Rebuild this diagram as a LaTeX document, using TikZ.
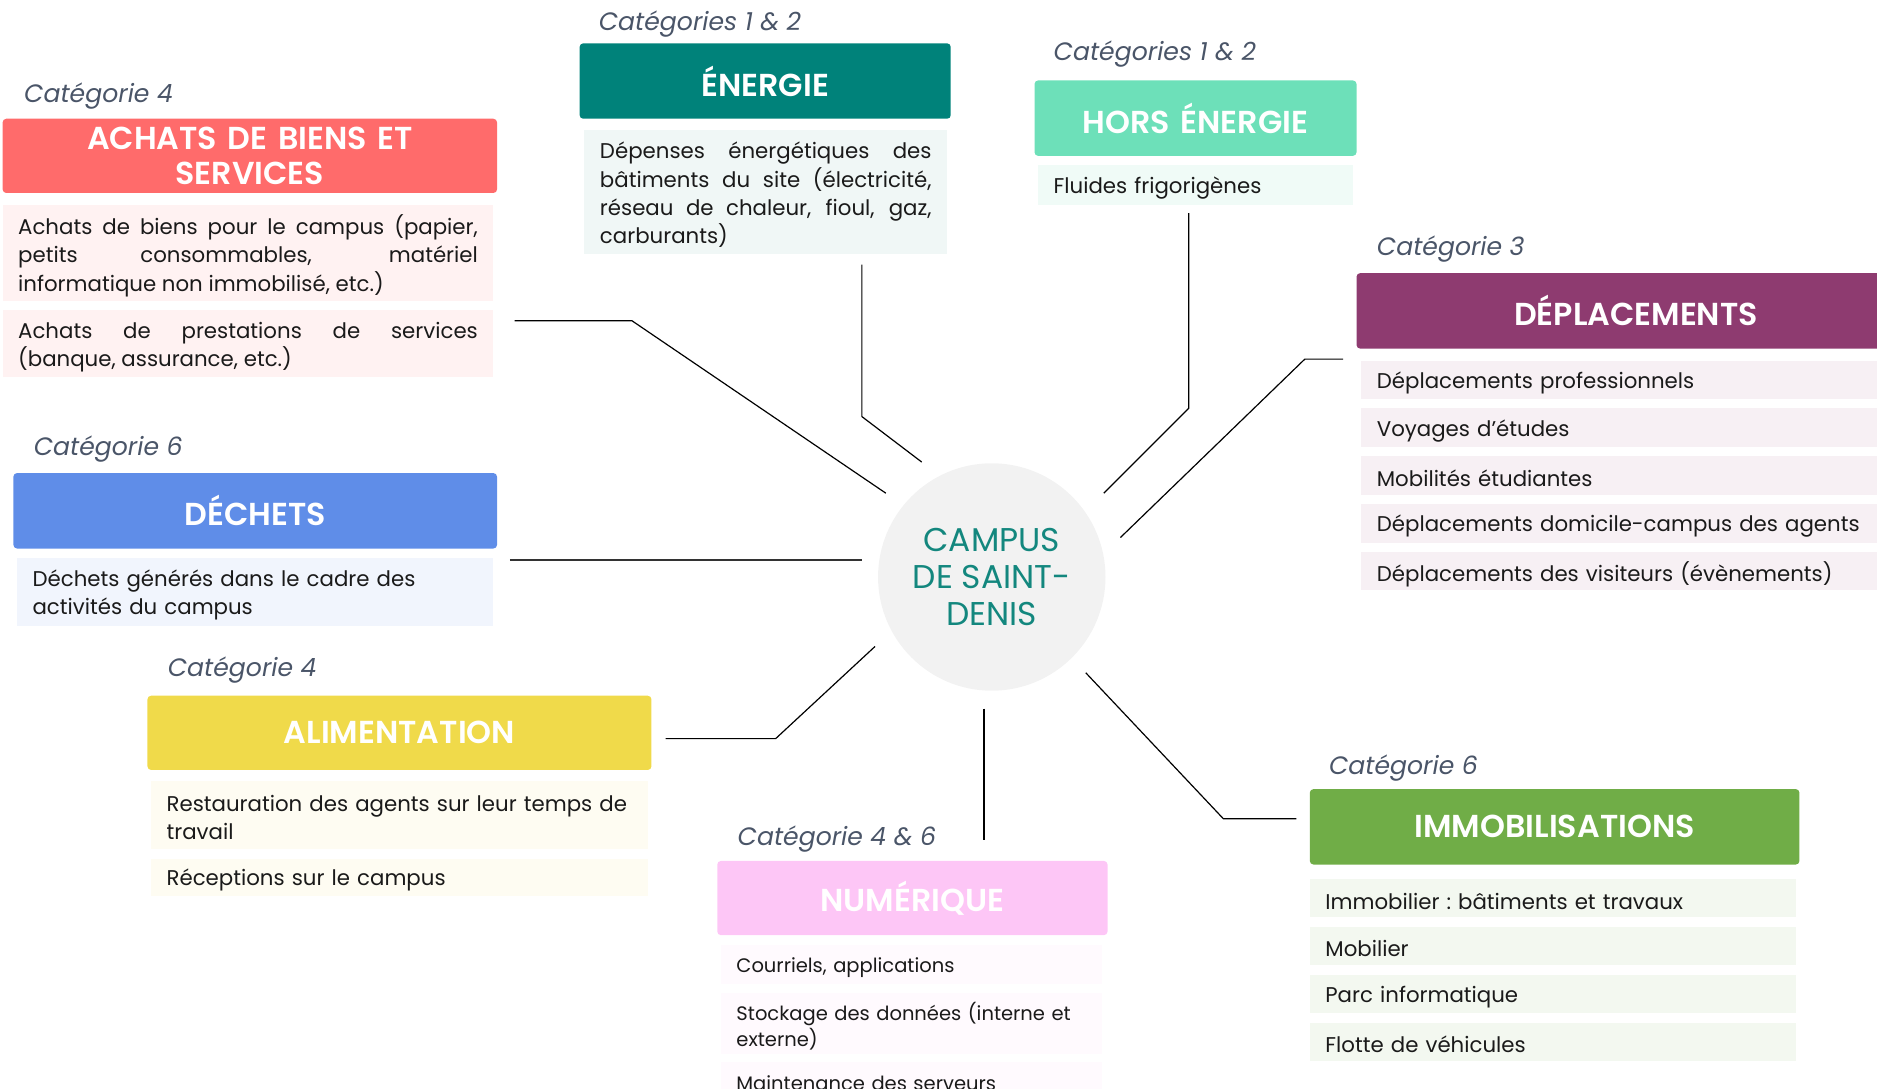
\documentclass[tikz,border=0pt]{standalone}
\usepackage{fontspec}
\setmainfont{Poppins}
\newfontfamily\headfont{Poppins SemiBold}
\definecolor{cEn}{HTML}{00827A}
\definecolor{cHors}{HTML}{6DE0B9}
\definecolor{cAch}{HTML}{FF6B6B}
\definecolor{cDech}{HTML}{5F8DE8}
\definecolor{cAlim}{HTML}{F0DA4A}
\definecolor{cNum}{HTML}{FDC6F6}
\definecolor{cImm}{HTML}{70AD47}
\definecolor{cDep}{HTML}{8E3B70}
\definecolor{lEn}{HTML}{F0F7F6}
\definecolor{lHors}{HTML}{F0FBF7}
\definecolor{lAch}{HTML}{FFF2F2}
\definecolor{lDech}{HTML}{F1F5FD}
\definecolor{lAlim}{HTML}{FEFCF2}
\definecolor{lNum}{HTML}{FFFAFE}
\definecolor{lImm}{HTML}{F3F8F0}
\definecolor{lDep}{HTML}{F7F0F4}
\definecolor{catgray}{HTML}{4A5568}
\definecolor{txtdark}{HTML}{1A1A1A}
\definecolor{circfill}{HTML}{F2F2F2}
\definecolor{circtxt}{HTML}{13877E}
\tikzset{
  headbox/.style={anchor=north west, rounded corners=3pt, inner xsep=6pt, inner ysep=0pt,
    align=center, text=white, font=\fontsize{26.5}{29}\selectfont\headfont},
  fillbox/.style={anchor=north west, inner sep=0pt},
  itemtext/.style={anchor=west, inner xsep=0pt, inner ysep=0pt, align=justify,
    text=txtdark, font=\fontsize{17.8}{23.5}\selectfont},
  smallitem/.style={font=\fontsize{16.3}{21}\selectfont},
  catlabel/.style={anchor=west, inner sep=0pt, text=catgray, font=\fontsize{21}{24}\selectfont\itshape},
  conn/.style={draw=black, line width=1pt},
}
\newcommand\mkhead[7]{%
  \pgfmathsetmacro\bxw{#4-#2}\pgfmathsetmacro\bxh{#5-#3}\pgfmathsetmacro\bxt{#4-#2-12}%
  \node[headbox, fill=#6, minimum width=\bxw pt, minimum height=\bxh pt, text width=\bxt pt] (#1) at (#2,#3) {#7};}
\newcommand\mkitem[8][]{%
  \pgfmathsetmacro\bxw{#5-#3}\pgfmathsetmacro\bxh{#6-#4}\pgfmathsetmacro\bxt{#5-#3-26}%
  \node[fillbox, fill=#7, minimum width=\bxw pt, minimum height=\bxh pt] (#2) at (#3,#4) {};
  \node[itemtext, text width=\bxt pt, #1] (#2t) at ([xshift=13pt, yshift=-2.5pt]#2.west) {#8};}
\begin{document}
\begin{tikzpicture}[x=1pt,y=-1pt]
\useasboundingbox (0,0) rectangle (1568,909.7);
\clip (0,0) rectangle (1568,909.7);

% category labels
\node[catlabel] (catEn) at (500,20) {Catégories 1 \& 2};
\node[catlabel] (catHors) at (880,45) {Catégories 1 \& 2};
\node[catlabel] (catAch) at (20,80) {Catégorie 4};
\node[catlabel] (catDep) at (1150,208) {Catégorie 3};
\node[catlabel] (catDech) at (28,375) {Catégorie 6};
\node[catlabel] (catAlim) at (140,560) {Catégorie 4};
\node[catlabel] (catNum) at (616,701) {Catégorie 4 \& 6};
\node[catlabel] (catImm) at (1110,642) {Catégorie 6};

% headers
\mkhead{hEn}{484}{36}{794}{99}{cEn}{ÉNERGIE}
\mkhead{hHors}{864}{67}{1133}{130}{cHors}{HORS ÉNERGIE}
\mkhead{hAch}{2}{99}{415}{161}{cAch}{ACHATS DE BIENS ET\\SERVICES}
\mkhead{hDech}{11}{395}{415}{458}{cDech}{DÉCHETS}
\mkhead{hAlim}{123}{581}{544}{643}{cAlim}{ALIMENTATION}
\mkhead{hNum}{599}{719}{925}{781}{cNum}{NUMÉRIQUE}
\mkhead{hImm}{1094}{659}{1503}{722}{cImm}{IMMOBILISATIONS}
\node[headbox, fill=cDep, minimum width=467pt, minimum height=63pt, text width=415pt] (hDep) at (1133,228) {DÉPLACEMENTS};

% items
\mkitem{iEn}{488}{108}{791}{212}{lEn}{Dépenses énergétiques des\linebreak bâtiments du site (électricité,\linebreak réseau de chaleur, fioul, gaz,\linebreak carburants)}
\mkitem[align=left]{iHors}{867}{138}{1130}{171}{lHors}{Fluides frigorigènes}
\mkitem{iAchA}{2}{171}{412}{251}{lAch}{Achats de biens pour le campus (papier,\linebreak petits consommables, matériel\linebreak informatique non immobilisé, etc.)}
\mkitem{iAchB}{2}{259}{412}{315}{lAch}{Achats de prestations de services\linebreak (banque, assurance, etc.)}
\mkitem[align=left]{iDech}{14}{466}{412}{523}{lDech}{Déchets générés dans le cadre des\\activités du campus}
\mkitem[align=left]{iAlimA}{126}{652}{541}{709}{lAlim}{Restauration des agents sur leur temps de\\travail}
\mkitem[align=left]{iAlimB}{126}{717}{541}{748}{lAlim}{Réceptions sur le campus}
\mkitem[align=left,smallitem]{iNumA}{602}{789}{920}{822}{lNum}{Courriels, applications}
\mkitem[align=left,smallitem]{iNumB}{602}{829}{920}{880}{lNum}{Stockage des données (interne et\\externe)}
\mkitem[align=left,smallitem]{iNumC}{602}{887}{920}{918}{lNum}{Maintenance des serveurs}
\mkitem[align=left]{iImmA}{1094}{734}{1500}{766}{lImm}{Immobilier :\hspace{-3pt} bâtiments et travaux}
\mkitem[align=left]{iImmB}{1094}{774}{1500}{806}{lImm}{Mobilier}
\mkitem[align=left]{iImmC}{1094}{814}{1500}{846}{lImm}{Parc informatique}
\mkitem[align=left]{iImmD}{1094}{854}{1500}{886}{lImm}{Flotte de véhicules}
\mkitem[align=left]{iDepA}{1137}{301}{1600}{333}{lDep}{Déplacements professionnels}
\mkitem[align=left]{iDepB}{1137}{341}{1600}{373}{lDep}{Voyages d’études}
\mkitem[align=left]{iDepC}{1137}{381}{1600}{413}{lDep}{Mobilités étudiantes}
\mkitem[align=left]{iDepD}{1137}{421}{1600}{453}{lDep}{Déplacements domicile-campus des agents}
\mkitem[align=left]{iDepE}{1137}{461}{1600}{493}{lDep}{Déplacements des visiteurs (évènements)}

% center
\node[circle, fill=circfill, minimum size=190pt, inner sep=0pt, align=center, text=circtxt,
  font=\fontsize{27.5}{30.5}\selectfont] (campus) at (828.5,482) {CAMPUS\\DE SAINT-\\DENIS};

% connector points
\coordinate (a1) at (430,268); \coordinate (a2) at (528,268); \coordinate (a3) at (740,412);
\coordinate (e1) at (720,221); \coordinate (e2) at (720,348); \coordinate (e3) at (770,386);
\coordinate (h1) at (993,178); \coordinate (h2) at (993,341); \coordinate (h3) at (922,412);
\coordinate (d1) at (1122,300); \coordinate (d2) at (1090,300); \coordinate (d3) at (936,449);
\coordinate (c1) at (426,468); \coordinate (c2) at (720,468);
\coordinate (l1) at (556,617); \coordinate (l2) at (648,617); \coordinate (l3) at (731,540);
\coordinate (n1) at (822,592); \coordinate (n2) at (822,702);
\coordinate (m1) at (907,562); \coordinate (m2) at (1022,684); \coordinate (m3) at (1083,684);

\draw[conn] (a1) -- (a2) -- (a3);
\draw[conn] (e1) -- (e2) -- (e3);
\draw[conn] (h1) -- (h2) -- (h3);
\draw[conn] (d1) -- (d2) -- (d3);
\draw[conn, line width=1.6pt, draw=black!80] (c1) -- (c2);
\draw[conn] (l1) -- (l2) -- (l3);
\draw[conn] (n1) -- (n2);
\draw[conn] (m1) -- (m2) -- (m3);
\end{tikzpicture}
\end{document}
